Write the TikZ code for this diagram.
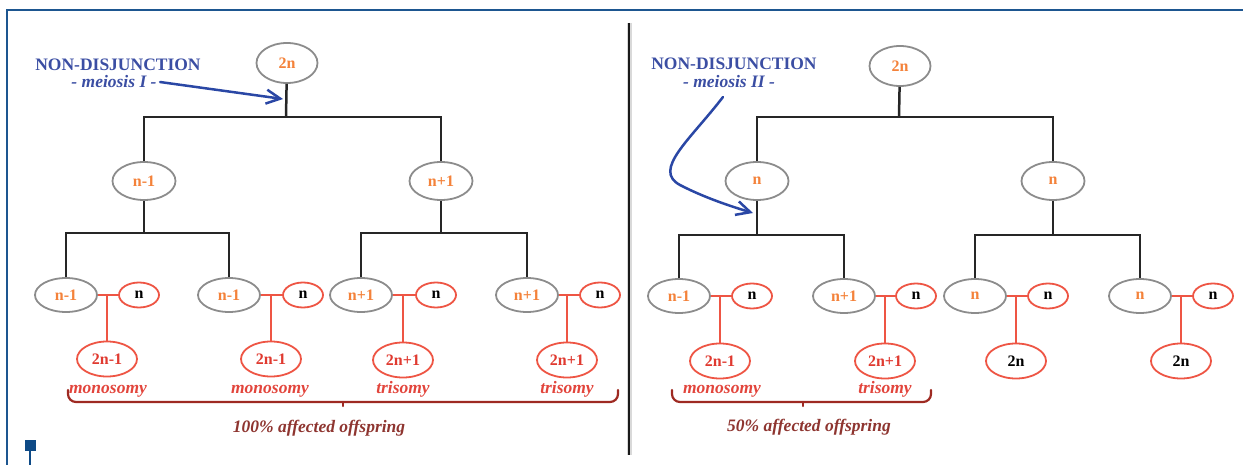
\documentclass[tikz,border=0pt]{standalone}
\usepackage{fontspec}
\setmainfont{Liberation Serif}
\usetikzlibrary{shapes.geometric,arrows.meta}

\definecolor{frameblue}{HTML}{1D5690}
\definecolor{markblue}{HTML}{0E4A86}
\definecolor{treeline}{HTML}{262626}
\definecolor{ellgrey}{HTML}{8C8C8C}
\definecolor{orangetxt}{HTML}{F4823A}
\definecolor{redline}{HTML}{EE5544}
\definecolor{redtxt}{HTML}{E03A30}
\definecolor{labelred}{HTML}{E2453C}
\definecolor{bracered}{HTML}{9E2A22}
\definecolor{browntxt}{HTML}{8E3530}
\definecolor{titleblue}{HTML}{3B4EA3}
\definecolor{arrowblue}{HTML}{2A47A5}

\begin{document}
\begin{tikzpicture}[x=1pt,y=-1pt,
  base ell/.style={ellipse, inner sep=0pt, fill=white, line width=1.8pt,
    font=\fontsize{16}{16}\selectfont\bfseries},
  parent/.style={base ell, draw=ellgrey, text=orangetxt},
  topell/.style={parent, minimum width=61pt, minimum height=40pt},
  midell/.style={parent, minimum width=63pt, minimum height=38pt},
  lowell/.style={parent, minimum width=62pt, minimum height=34pt},
  gamete/.style={base ell, draw=redline, text=black, minimum width=40pt, minimum height=25pt},
  zygote/.style={base ell, draw=redline, text=redtxt, minimum width=60pt, minimum height=35pt},
  normal zygote/.style={zygote, text=black},
  tree/.style={draw=treeline, line width=2.5pt},
  fert/.style={draw=redline, line width=1.8pt},
  title/.style={font=\fontsize{17.5}{20}\selectfont\bfseries, text=titleblue, anchor=base},
  subtitle/.style={font=\fontsize{17.5}{20}\selectfont\bfseries\itshape, text=titleblue, anchor=base},
  outcome/.style={font=\fontsize{17.5}{20}\selectfont\bfseries\itshape, text=labelred, anchor=base},
  summary/.style={font=\fontsize{17.5}{20}\selectfont\bfseries\itshape, text=browntxt, anchor=base},
  group bracket/.style={draw=bracered, line width=2.2pt, rounded corners=8pt, line cap=round},
  blue arrow/.style={draw=arrowblue, line width=2.5pt, line cap=round,
    -{Straight Barb[length=14pt,width=14pt,line width=2.5pt]}}
]
\useasboundingbox (0,0) rectangle (1243,465);

% page frame and corner marker
\draw[frameblue, line width=1.5pt] (7,465) -- (7,10) -- (1243,10);
\fill[markblue] (25,440) rectangle (36,451);
\draw[markblue, line width=2.5pt] (30,451) -- (30,465);

% divider between the two panels
\draw[black!15, line width=5pt] (629,23) -- (629,455);
\draw[black!90, line width=2pt] (629,23) -- (629,455);

% ---------------- meiosis I ----------------
\node[title]    (Lnd)  at (118,71) {NON-DISJUNCTION};
\node[subtitle] (Lmei) at (114,88) {- meiosis I -};

\node[topell] (L2n) at (287,63)  {2n};
\node[midell] (Lm1) at (144,181) {n-1};
\node[midell] (Lp1) at (441,181) {n+1};

\node[lowell] (La) at (66,295)  {n-1};
\node[lowell] (Lb) at (229,295) {n-1};
\node[lowell] (Lc) at (361,295) {n+1};
\node[lowell] (Ld) at (527,295) {n+1};

\node[gamete] (LaN) at (139,295) {n};
\node[gamete] (LbN) at (303,295) {n};
\node[gamete] (LcN) at (436,295) {n};
\node[gamete] (LdN) at (600,295) {n};

\node[zygote] (LaZ) at (107,359) {2n-1};
\node[zygote] (LbZ) at (271,359) {2n-1};
\node[zygote] (LcZ) at (403,360) {2n+1};
\node[zygote] (LdZ) at (567,360) {2n+1};

\coordinate (Lj)  at (286,117);
\coordinate (Lk1) at (144,233);
\coordinate (Lk2) at (441,233);

\draw[tree] (L2n) -- (Lj);
\draw[tree] (Lm1) |- (Lj) -| (Lp1);
\draw[tree] (Lm1) -- (Lk1);
\draw[tree] (Lp1) -- (Lk2);
\draw[tree] (La) |- (Lk1) -| (Lb);
\draw[tree] (Lc) |- (Lk2) -| (Ld);

\foreach \g in {La,Lb,Lc,Ld}{
  \draw[fert] (\g) -- (\g N);
  \draw[fert] (\g Z) -- (\g Z |- \g N);
}

\node[outcome] (Lo1) at (108,393) {monosomy};
\node[outcome] (Lo2) at (270,393) {monosomy};
\node[outcome] (Lo3) at (403,393) {trisomy};
\node[outcome] (Lo4) at (567,393) {trisomy};

% bracket under the four affected zygotes
\coordinate (Lbl)  at (68,390);
\coordinate (Lbr)  at (618,390);
\coordinate (Lmid) at (343,402);
\draw[group bracket] (Lbl) |- (Lmid) -| (Lbr);
\draw[group bracket] (Lmid) -- ++(0,4);
\node[summary] (Lsum) at (319,432) {100\% affected offspring};

\coordinate (Lhit) at (283,99);
\draw[blue arrow] (Lmei.east) -- (Lhit);

% ---------------- meiosis II ----------------
\node[title]    (Rnd)  at (734,70) {NON-DISJUNCTION};
\node[subtitle] (Rmei) at (729,88) {- meiosis II -};

\node[topell] (R2n) at (900,66)   {2n};
\node[midell] (Rm)  at (757,181)  {n};
\node[midell] (Rp)  at (1053,181) {n};

\node[lowell] (Ra) at (679,296)  {n-1};
\node[lowell] (Rb) at (844,296)  {n+1};
\node[lowell] (Rc) at (975,296)  {n};
\node[lowell] (Rd) at (1140,296) {n};

\node[gamete] (RaN) at (752,296)  {n};
\node[gamete] (RbN) at (916,296)  {n};
\node[gamete] (RcN) at (1048,296) {n};
\node[gamete] (RdN) at (1213,296) {n};

\node[zygote]        (RaZ) at (720,361)  {2n-1};
\node[zygote]        (RbZ) at (885,361)  {2n+1};
\node[normal zygote] (RcZ) at (1016,361) {2n};
\node[normal zygote] (RdZ) at (1181,361) {2n};

\coordinate (Rj)  at (899,117);
\coordinate (Rk1) at (757,235);
\coordinate (Rk2) at (1053,235);

\draw[tree] (R2n) -- (Rj);
\draw[tree] (Rm) |- (Rj) -| (Rp);
\draw[tree] (Rm) -- (Rk1);
\draw[tree] (Rp) -- (Rk2);
\draw[tree] (Ra) |- (Rk1) -| (Rb);
\draw[tree] (Rc) |- (Rk2) -| (Rd);

\foreach \g in {Ra,Rb,Rc,Rd}{
  \draw[fert] (\g) -- (\g N);
  \draw[fert] (\g Z) -- (\g Z |- \g N);
}

\node[outcome] (Ro1) at (722,393) {monosomy};
\node[outcome] (Ro2) at (885,393) {trisomy};

% bracket under the two affected zygotes
\coordinate (Rbl)  at (672,390);
\coordinate (Rbr)  at (931,390);
\coordinate (Rmid) at (803,402);
\draw[group bracket] (Rbl) |- (Rmid) -| (Rbr);
\draw[group bracket] (Rmid) -- ++(0,4);
\node[summary] (Rsum) at (809,431) {50\% affected offspring};

\coordinate (Rtail) at (723,97);
\coordinate (Rhit)  at (753,213);
\draw[blue arrow] (Rtail) .. controls (690,140) and (652,170) .. (680,185)
                          .. controls (705,198) and (733,207) .. (Rhit);
\end{tikzpicture}
\end{document}
